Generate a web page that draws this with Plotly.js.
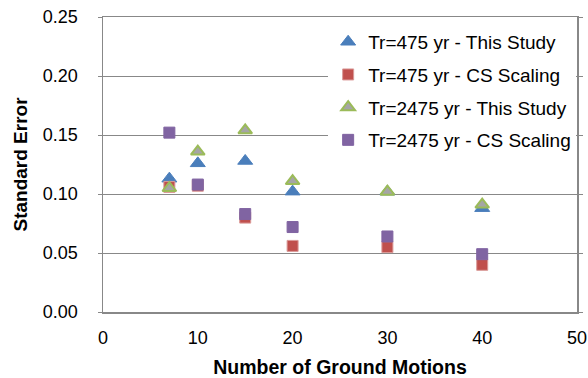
<!DOCTYPE html>
<html><head><meta charset="utf-8">
<script src="https://cdn.plot.ly/plotly-3.0.1.min.js"></script>
<style>html,body{margin:0;padding:0;background:#fff}#chart{width:588px;height:378px}</style>
</head><body><div id="chart"></div>
<script>
var groundMotions = [7, 10, 15, 20, 30, 40];
var tr475Study  = [0.113, 0.126, 0.128, 0.102, 0.102, 0.088];
var tr475CS     = [0.106, 0.107, 0.080, 0.056, 0.055, 0.040];
var tr2475Study = [0.105, 0.136, 0.154, 0.111, 0.102, 0.091];
var tr2475CS    = [0.152, 0.108, 0.083, 0.072, 0.064, 0.049];
var seriesNames = ['Tr=475 yr - This Study', 'Tr=475 yr - CS Scaling', 'Tr=2475 yr - This Study', 'Tr=2475 yr - CS Scaling'];
var yTicks = [0, 0.05, 0.10, 0.15, 0.20, 0.25];
var xTicks = [0, 10, 20, 30, 40, 50];

var font = 'Liberation Sans, Arial, sans-serif';
var traces = [
  {x: groundMotions, y: tr475Study, name: seriesNames[0], legendgroup: 'a', type: 'scatter', mode: 'markers',
   marker: {symbol: 'triangle-up', size: 13, color: '#4A7EBB', line: {color: '#4A7EBB', width: 1}}},
  {x: groundMotions, y: tr475CS, name: seriesNames[1], legendgroup: 'b', type: 'scatter', mode: 'markers',
   marker: {symbol: 'square', size: 11, color: '#C0504D', line: {color: '#DA9A98', width: 1}}},
  {x: groundMotions, y: tr2475Study, name: seriesNames[2], legendgroup: 'c', type: 'scatter', mode: 'markers',
   marker: {symbol: 'triangle-up', size: 12, color: '#A5A5A5', line: {color: '#9BBB59', width: 2}}},
  {x: groundMotions, y: tr2475CS, name: seriesNames[3], legendgroup: 'd', type: 'scatter', mode: 'markers',
   marker: {symbol: 'square', size: 11, color: '#8064A2', line: {color: '#8064A2', width: 1}}}
];

var layout = {
  width: 588, height: 378,
  margin: {l: 103, r: 11, t: 17, b: 66, pad: 0},
  paper_bgcolor: '#fff', plot_bgcolor: '#fff',
  font: {family: font, size: 18, color: '#000'},
  showlegend: true,
  legend: {x: 0.475, xanchor: 'left', y: 0.98, yanchor: 'top', bgcolor: 'rgba(255,255,255,1)',
           font: {family: font, size: 19, color: '#000'}, tracegroupgap: 5, itemwidth: 30},
  xaxis: {range: [0, 50], tickvals: xTicks, ticktext: xTicks.map(String), showgrid: false, zeroline: false,
          showline: true, linecolor: '#888', linewidth: 1.5, mirror: true, ticks: '',
          ticklabelstandoff: 9, tickfont: {size: 18},
          title: {text: '<b>Number of Ground Motions</b>', font: {size: 19.5}, standoff: 14}},
  yaxis: {range: [0, 0.25], tickvals: yTicks, ticktext: yTicks.map(function(v){return v.toFixed(2);}),
          showgrid: true, gridcolor: '#888', gridwidth: 1, zeroline: false,
          showline: true, linecolor: '#888', linewidth: 1.5, mirror: 'ticks', ticks: 'outside', ticklen: 4,
          tickcolor: '#888', ticklabelstandoff: 16, tickfont: {size: 18},
          title: {text: '<b>Standard Error</b>', font: {size: 19}, standoff: 10}}
};
Plotly.newPlot('chart', traces, layout, {displayModeBar: false, staticPlot: true});
</script></body></html>
